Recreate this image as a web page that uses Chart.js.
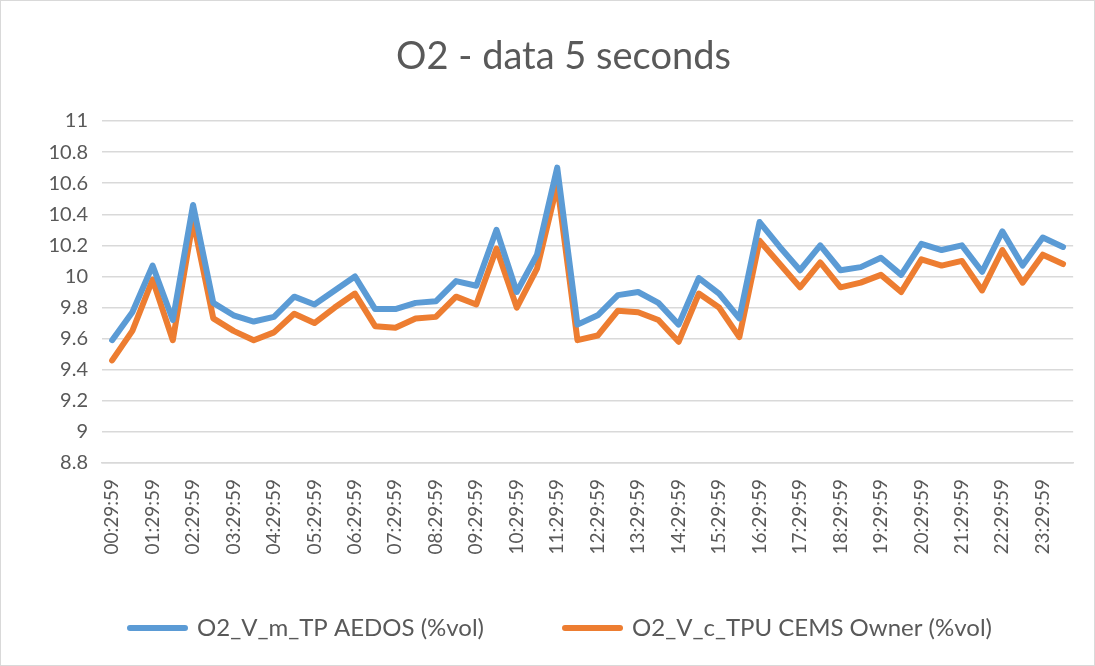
<!DOCTYPE html>
<html>
<head>
<meta charset="utf-8">
<script src="https://cdn.jsdelivr.net/npm/chart.js@4.4.1/dist/chart.umd.min.js"></script>
<style>
    html, body { margin: 0; padding: 0; background: #fff; }
    #wrap {
        position: absolute; left: 0; top: 0;
        width: 1093px; height: 664px;
        border: 1px solid #d9d9d9;
    }
</style>
</head>
<body>
<div id="wrap"><canvas id="o2Chart" width="1093" height="664"></canvas></div>
<script>
// half-hour timestamps, every second one is labelled on the axis
const timeLabels = [
    '00:29:59', '00:59:59', '01:29:59', '01:59:59', '02:29:59', '02:59:59',
    '03:29:59', '03:59:59', '04:29:59', '04:59:59', '05:29:59', '05:59:59',
    '06:29:59', '06:59:59', '07:29:59', '07:59:59', '08:29:59', '08:59:59',
    '09:29:59', '09:59:59', '10:29:59', '10:59:59', '11:29:59', '11:59:59',
    '12:29:59', '12:59:59', '13:29:59', '13:59:59', '14:29:59', '14:59:59',
    '15:29:59', '15:59:59', '16:29:59', '16:59:59', '17:29:59', '17:59:59',
    '18:29:59', '18:59:59', '19:29:59', '19:59:59', '20:29:59', '20:59:59',
    '21:29:59', '21:59:59', '22:29:59', '22:59:59', '23:29:59', '23:59:59'
];

const aedosValues = [
    9.59, 9.77, 10.07, 9.72, 10.46, 9.83, 9.75, 9.71, 9.74, 9.87, 9.82, 9.91,
    10.00, 9.79, 9.79, 9.83, 9.84, 9.97, 9.94, 10.30, 9.90, 10.14, 10.70, 9.69,
    9.75, 9.88, 9.90, 9.83, 9.69, 9.99, 9.89, 9.73, 10.35, 10.19, 10.04, 10.20,
    10.04, 10.06, 10.12, 10.01, 10.21, 10.17, 10.20, 10.03, 10.29, 10.07, 10.25, 10.19
];

const ownerValues = [
    9.46, 9.65, 9.98, 9.59, 10.36, 9.73, 9.65, 9.59, 9.64, 9.76, 9.70, 9.80,
    9.89, 9.68, 9.67, 9.73, 9.74, 9.87, 9.82, 10.18, 9.80, 10.05, 10.59, 9.59,
    9.62, 9.78, 9.77, 9.72, 9.58, 9.89, 9.80, 9.61, 10.23, 10.08, 9.93, 10.09,
    9.93, 9.96, 10.01, 9.90, 10.11, 10.07, 10.10, 9.91, 10.17, 9.96, 10.14, 10.08
];

const yMin = 8.8;
const yMax = 11;
const yStep = 0.2;

const textColor = '#595959';
const gridColor = '#d9d9d9';

// legend padding also sets the gap between items; pull the row back up afterwards
const legendNudge = {
    id: 'legendNudge',
    afterLayout(chart) {
        chart.legend.top -= 25;
        chart.legend.bottom -= 25;
    }
};

document.addEventListener('DOMContentLoaded', () => {
    const ctx = document.getElementById('o2Chart').getContext('2d');

    new Chart(ctx, {
        type: 'line',
        data: {
            labels: timeLabels,
            datasets: [
                {
                    label: 'O2_V_m_TP AEDOS (%vol)',
                    data: aedosValues,
                    borderColor: '#5b9bd5',
                    backgroundColor: '#5b9bd5',
                    borderWidth: 6,
                    pointRadius: 0,
                    borderJoinStyle: 'round',
                    borderCapStyle: 'round',
                    tension: 0
                },
                {
                    label: 'O2_V_c_TPU CEMS Owner (%vol)',
                    data: ownerValues,
                    borderColor: '#ed7d31',
                    backgroundColor: '#ed7d31',
                    borderWidth: 6,
                    pointRadius: 0,
                    borderJoinStyle: 'round',
                    borderCapStyle: 'round',
                    tension: 0
                }
            ]
        },
        plugins: [legendNudge],
        options: {
            responsive: false,
            animation: false,
            layout: {
                padding: { left: 48, right: 16, top: 0, bottom: -10 }
            },
            plugins: {
                title: {
                    display: true,
                    text: 'O2 - data 5 seconds',
                    color: textColor,
                    font: { family: 'Lato', size: 38, weight: 'normal' },
                    padding: { top: 33.2, bottom: 41.2 }
                },
                legend: {
                    position: 'bottom',
                    align: 'start',
                    labels: {
                        color: textColor,
                        font: { family: 'Lato', size: 24 },
                        boxWidth: 55,
                        boxHeight: 0,
                        padding: 81
                    }
                },
                tooltip: { enabled: false }
            },
            scales: {
                x: {
                    offset: true,
                    grid: { display: false },
                    border: { display: true, color: gridColor, width: 1.5 },
                    afterFit: (scale) => { scale.height = 97; },
                    ticks: {
                        autoSkip: false,
                        minRotation: 90,
                        maxRotation: 90,
                        padding: 8,
                        color: textColor,
                        font: { family: 'Lato', size: 19 },
                        callback: function (value, index) {
                            return index % 2 === 0 ? this.getLabelForValue(value) : '';
                        }
                    }
                },
                y: {
                    min: yMin,
                    max: yMax,
                    border: { display: false },
                    afterFit: (scale) => { scale.width = 53; },
                    grid: { color: gridColor, lineWidth: 1.5, drawTicks: false },
                    ticks: {
                        stepSize: yStep,
                        padding: 14,
                        color: textColor,
                        font: { family: 'Lato', size: 20 },
                        callback: (v) => String(Number(v.toFixed(1)))
                    }
                }
            }
        }
    });
});
</script>
</body>
</html>
